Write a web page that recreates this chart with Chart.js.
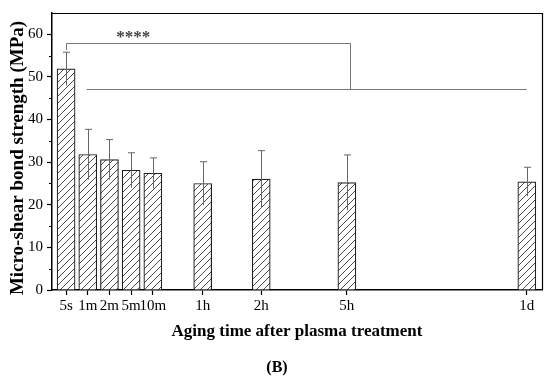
<!DOCTYPE html>
<html>
<head>
<meta charset="utf-8">
<script src="https://cdn.jsdelivr.net/npm/chart.js@4.4.1/dist/chart.umd.min.js"></script>
<style>
html, body { margin: 0; padding: 0; background: #fff; }
</style>
</head>
<body>
<canvas id="chart" width="550" height="380"></canvas>
<script>
const timeLabels = ['5s', '1m', '2m', '5m', '10m', '1h', '2h', '5h', '1d'];
// where each group sits on the (non-uniform) time axis
const timePos = [1, 2, 3, 4, 5, 7.3, 10, 13.95, 22.25];
const strengthMean = [51.9, 31.8, 30.6, 28.1, 27.4, 25.0, 26.0, 25.2, 25.4];
const strengthSD = [3.9, 5.9, 4.7, 4.1, 3.6, 5.1, 6.7, 6.5, 3.4];
const yTicks = [0, 10, 20, 30, 40, 50, 60];

// significance bracket: 5s vs the other groups
const sigText = '****';
const sigLevel = 57.9;
const sigRowLevel = 47.1;
const sigFrom = 1;
const sigTo = 14.1;
const sigRowFrom = 1.95;
const sigRowTo = 22.25;
const sigTextPos = 4.1;
const sigTextLevel = 58.3;

const SERIF = '"Liberation Serif", "Times New Roman", serif';
const canvas = document.getElementById('chart');

function makeHatch() {
    const c = document.createElement('canvas');
    c.width = 7;
    c.height = 7;
    const g = c.getContext('2d');
    g.fillStyle = '#fff';
    g.fillRect(0, 0, 7, 7);
    g.strokeStyle = '#4a4a4a';
    g.lineWidth = 1;
    g.beginPath();
    g.moveTo(-1, 8); g.lineTo(8, -1);
    g.moveTo(-1, 1); g.lineTo(1, -1);
    g.moveTo(6, 8); g.lineTo(8, 6);
    g.stroke();
    return canvas.getContext('2d').createPattern(c, 'repeat');
}

const extras = {
    id: 'extras',
    afterDatasetsDraw(chart) {
        const { ctx, scales: { x, y } } = chart;
        ctx.save();

        // error bars (upper cap only)
        ctx.strokeStyle = '#666';
        ctx.lineWidth = 1;
        strengthMean.forEach((m, i) => {
            const px = Math.round(x.getPixelForValue(timePos[i])) + 0.5;
            const top = y.getPixelForValue(m + strengthSD[i]);
            const bot = y.getPixelForValue(m - strengthSD[i]);
            ctx.beginPath();
            ctx.moveTo(px, bot);
            ctx.lineTo(px, top);
            ctx.moveTo(px - 3.5, top);
            ctx.lineTo(px + 3.5, top);
            ctx.stroke();
        });

        // significance bracket
        ctx.strokeStyle = '#777';
        const yTop = Math.round(y.getPixelForValue(sigLevel)) + 0.5;
        const yRow = Math.round(y.getPixelForValue(sigRowLevel)) + 0.5;
        const xa = Math.round(x.getPixelForValue(sigFrom)) + 0.5;
        const xb = Math.round(x.getPixelForValue(sigTo)) + 0.5;
        ctx.beginPath();
        ctx.moveTo(xa, y.getPixelForValue(strengthMean[0] + strengthSD[0]) - 2);
        ctx.lineTo(xa, yTop);
        ctx.lineTo(xb, yTop);
        ctx.lineTo(xb, yRow);
        ctx.moveTo(x.getPixelForValue(sigRowFrom), yRow);
        ctx.lineTo(x.getPixelForValue(sigRowTo), yRow);
        ctx.stroke();

        ctx.fillStyle = '#444';
        ctx.font = 'bold 17px ' + SERIF;
        ctx.textAlign = 'center';
        ctx.textBaseline = 'alphabetic';
        ctx.fillText(sigText, x.getPixelForValue(sigTextPos), y.getPixelForValue(sigTextLevel));
        ctx.restore();
    },
    afterDraw(chart) {
        const { ctx, chartArea: a, scales: { y } } = chart;
        ctx.save();
        ctx.strokeStyle = '#000';

        // top and right frame
        ctx.lineWidth = 1.2;
        ctx.beginPath();
        ctx.moveTo(a.left, a.top + 0.5);
        ctx.lineTo(a.right + 0.5, a.top + 0.5);
        ctx.lineTo(a.right + 0.5, a.bottom);
        ctx.stroke();

        // minor ticks on the y axis
        ctx.lineWidth = 1;
        ctx.beginPath();
        for (let v = 5; v < 65; v += 10) {
            const py = Math.round(y.getPixelForValue(v)) + 0.5;
            ctx.moveTo(a.left - 3, py);
            ctx.lineTo(a.left, py);
        }
        ctx.stroke();

        // y axis title
        ctx.fillStyle = '#000';
        ctx.font = 'bold 19px ' + SERIF;
        ctx.textAlign = 'center';
        ctx.textBaseline = 'middle';
        ctx.translate(18, 158);
        ctx.rotate(-Math.PI / 2);
        ctx.fillText('Micro-shear bond strength (MPa)', 0, 0);
        ctx.setTransform(1, 0, 0, 1, 0, 0);

        ctx.font = 'bold 16px ' + SERIF;
        ctx.fillText('(B)', 277, 368);
        ctx.restore();
    }
};

new Chart(canvas, {
    type: 'bar',
    data: {
        datasets: [{
            data: timePos.map((t, i) => ({ x: t, y: strengthMean[i] })),
            backgroundColor: makeHatch(),
            borderColor: '#222',
            borderWidth: 1.2,
            barThickness: 18
        }]
    },
    options: {
        responsive: false,
        animation: false,
        layout: { padding: { top: 7, right: 8, left: 0, bottom: 0 } },
        plugins: {
            legend: { display: false },
            tooltip: { enabled: false }
        },
        scales: {
            x: {
                type: 'linear',
                min: 0.35,
                max: 22.95,
                offset: false,
                afterFit: s => { s.height = 90; },
                afterBuildTicks: s => { s.ticks = timePos.map(v => ({ value: v })); },
                ticks: {
                    callback: (v, i) => timeLabels[i],
                    autoSkip: false,
                    maxRotation: 0,
                    padding: 2,
                    color: '#000',
                    font: { family: SERIF, size: 15 }
                },
                grid: { drawOnChartArea: false, offset: false, tickLength: 5, tickColor: '#000', tickWidth: 1.2 },
                border: { color: '#000', width: 1.5 },
                title: {
                    display: true,
                    text: 'Aging time after plasma treatment',
                    color: '#000',
                    font: { family: SERIF, size: 17, weight: 'bold' },
                    padding: { top: 0, bottom: 38 }
                }
            },
            y: {
                min: 0,
                max: 65,
                afterFit: s => { s.width = 52; },
                afterBuildTicks: s => { s.ticks = yTicks.map(v => ({ value: v })); },
                ticks: {
                    padding: 4,
                    color: '#000',
                    font: { family: SERIF, size: 15 }
                },
                grid: { drawOnChartArea: false, tickLength: 5, tickColor: '#000', tickWidth: 1.2 },
                border: { color: '#000', width: 1.5 }
            }
        }
    },
    plugins: [extras]
});
</script>
</body>
</html>
